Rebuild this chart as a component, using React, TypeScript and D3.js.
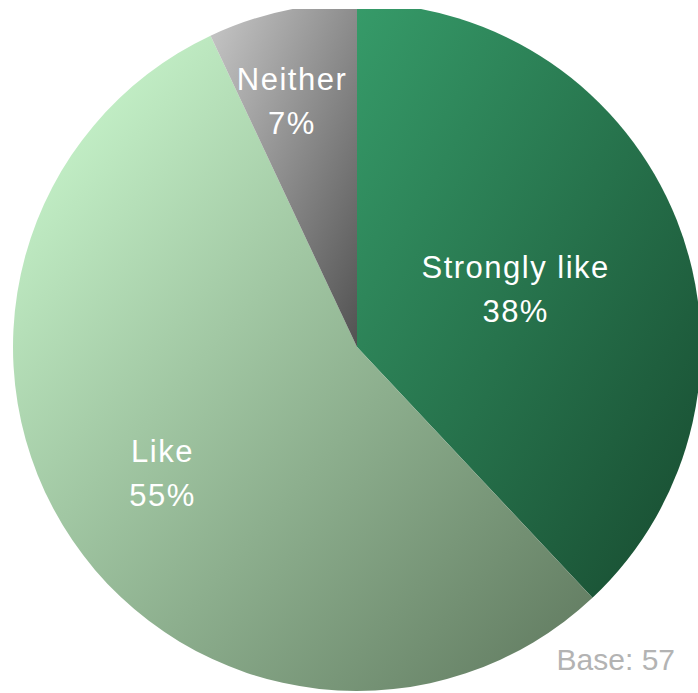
import React from "react";
import * as d3 from "d3";

const categories = ["Strongly like", "Like", "Neither"];
const values = [38, 55, 7];
const valueLabels = ["38%", "55%", "7%"];
const baseLabel = "Base: 57";

// styling
const gradStart = ["#369b69", "#d0ffd4", "#c8c8c8"];
const gradEnd = ["#174a2f", "#5e775d", "#525252"];
const labelRadiusFactor = [0.5, 0.69, 0.73];
const labelNudge: [number, number][] = [
  [-2, 16],
  [1, 4],
  [-11, 10],
];

const W = 698;
const H = 693;
const CX = 357;
const CY = 347;
const R = 344;

export default function App() {
  const pie = d3
    .pie<number>()
    .sort(null)
    .value((d) => d);
  const arcs = pie(values);
  const arcGen = d3.arc<d3.PieArcDatum<number>>().innerRadius(0).outerRadius(R);

  return (
    <svg
      width={W}
      height={H}
      style={{ position: "fixed", left: 0, top: 0, display: "block", background: "#fff" }}
      fontFamily="'Liberation Sans', Arial, Helvetica, sans-serif"
    >
      <defs>
        <clipPath id="clip">
          <rect x={0} y={9} width={698} height={H - 9} />
        </clipPath>
        {arcs.map((a, i) => (
          <linearGradient key={i} id={`g${i}`} x1="0" y1="0" x2="1" y2="1">
            <stop offset="0%" stopColor={gradStart[i]} />
            <stop offset="100%" stopColor={gradEnd[i]} />
          </linearGradient>
        ))}
      </defs>
      <g clipPath="url(#clip)">
        <g transform={`translate(${CX},${CY})`}>
          {arcs.map((a, i) => (
            <path key={i} d={arcGen(a) || ""} fill={`url(#g${i})`} />
          ))}
        </g>
      </g>
      <g transform={`translate(${CX},${CY})`}>
        {arcs.map((a, i) => {
          const r = R * labelRadiusFactor[i];
          const lab = d3.arc<d3.PieArcDatum<number>>().innerRadius(r).outerRadius(r);
          const [x0, y0] = lab.centroid(a);
          const x = x0 + labelNudge[i][0];
          const y = y0 + labelNudge[i][1];
          return (
            <text
              key={i}
              x={x}
              textAnchor="middle"
              fill="#ffffff"
              fontSize={31}
              letterSpacing={1.5}
            >
              <tspan x={x + 0.75} y={y - 22}>
                {categories[i]}
              </tspan>
              <tspan x={x + 0.75} y={y + 22}>
                {valueLabels[i]}
              </tspan>
            </text>
          );
        })}
      </g>
      <text x={675} y={670} textAnchor="end" fill="#b3b3b3" fontSize={30}>
        {baseLabel}
      </text>
    </svg>
  );
}
